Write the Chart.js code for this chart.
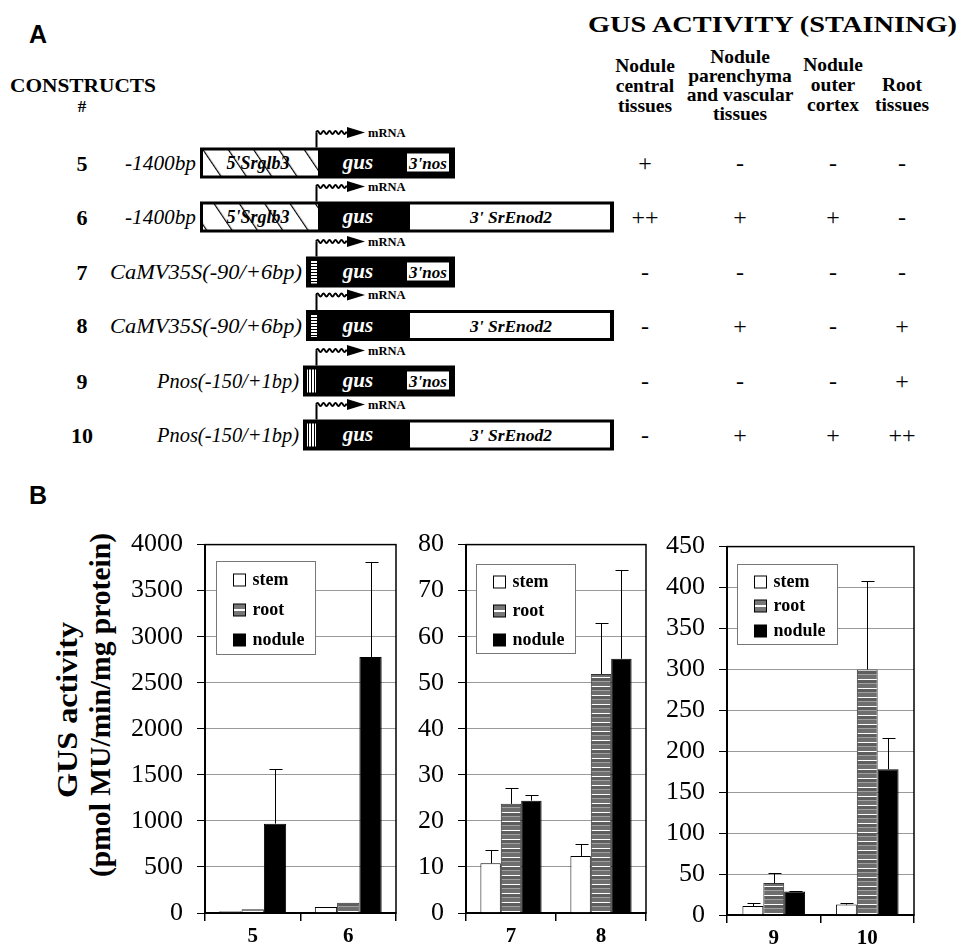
<!DOCTYPE html>
<html>
<head>
<meta charset="utf-8">
<script src="https://cdn.jsdelivr.net/npm/chart.js@4.4.1/dist/chart.umd.min.js"></script>
<style>
  html, body { margin: 0; padding: 0; background: #fff; }
  #page { position: relative; width: 962px; height: 946px; overflow: hidden; }
  #panelA { position: absolute; left: 0; top: 0; }
  canvas { position: absolute; }
</style>
</head>
<body>
<div id="page">
  <svg id="panelA" width="962" height="946" xmlns="http://www.w3.org/2000/svg"></svg>
  <canvas id="c1" width="355" height="431" style="left:45px;top:515px"></canvas>
  <canvas id="c2" width="250" height="431" style="left:400px;top:515px"></canvas>
  <canvas id="c3" width="270" height="431" style="left:650px;top:517px"></canvas>
</div>
<script>
// ---- panel A : constructs and staining ----
const constructIds = ['5', '6', '7', '8', '9', '10'];
const promoters = ['-1400bp', '-1400bp', 'CaMV35S(-90/+6bp)', 'CaMV35S(-90/+6bp)', 'Pnos(-150/+1bp)', 'Pnos(-150/+1bp)'];
const promoterKinds = ['srglb3', 'srglb3', 'camv', 'camv', 'pnos', 'pnos'];
const terminators = ["3'nos", "3' SrEnod2", "3'nos", "3' SrEnod2", "3'nos", "3' SrEnod2"];
const tissueHeads = [
  ['Nodule', 'central', 'tissues'],
  ['Nodule', 'parenchyma', 'and vascular', 'tissues'],
  ['Nodule', 'outer', 'cortex'],
  ['Root', 'tissues']
];
const staining = [
  ['+', '-', '-', '-'],
  ['++', '+', '+', '-'],
  ['-', '-', '-', '-'],
  ['-', '+', '-', '+'],
  ['-', '-', '-', '+'],
  ['-', '+', '+', '++']
];

// ---- panel B : GUS activity (pmol MU/min/mg protein) ----
const seriesNames = ['stem', 'root', 'nodule'];
const yTitle = ['GUS activity', '(pmol MU/min/mg protein)'];

const groups1 = ['5', '6'];
const stem1 = [20, 65];
const root1 = [40, 110];
const nodule1 = [970, 2780];
const stemErr1 = [0, 0];
const rootErr1 = [0, 0];
const noduleErr1 = [595, 1030];
const yTicks1 = [0, 500, 1000, 1500, 2000, 2500, 3000, 3500, 4000];

const groups2 = ['7', '8'];
const stem2 = [10.8, 12.4];
const root2 = [23.7, 51.9];
const nodule2 = [24.4, 55.2];
const stemErr2 = [2.9, 2.6];
const rootErr2 = [3.5, 11.1];
const noduleErr2 = [1.3, 19.2];
const yTicks2 = [0, 10, 20, 30, 40, 50, 60, 70, 80];

const groups3 = ['9', '10'];
const stem3 = [11, 12.7];
const root3 = [39, 300];
const nodule3 = [28.6, 178];
const stemErr3 = [3.5, 2];
const rootErr3 = [12.5, 108];
const noduleErr3 = [1, 38];
const yTicks3 = [0, 50, 100, 150, 200, 250, 300, 350, 400, 450];

const SERIF = "'Liberation Serif', 'Times New Roman', serif";
const SANS = "'Liberation Sans', Arial, sans-serif";

// ---------- panel A drawing ----------
function esc(t) { return t.replace(/&/g, '&amp;').replace(/</g, '&lt;'); }
function txt(x, y, t, a) { return `<text x="${x}" y="${y}" ${a}>${esc(t)}</text>`; }

const rowY = [163, 217, 272, 325.5, 381, 435];
const boxLeft = { srglb3: 200, camv: 306, pnos: 303 };
const gusX = 318;
const promoterWidth = { srglb3: 71, camv: 192, pnos: 142 };
const colX = [645, 740, 833, 902];
const headBase = [[72, 92, 112], [63, 82, 101, 120], [71, 91, 111], [91, 111]];

let s = `<defs>
  <pattern id="hatch" patternUnits="userSpaceOnUse" width="21" height="60" patternTransform="rotate(-34)">
    <rect width="21" height="60" fill="#fff"/><rect x="0" width="1.2" height="60" fill="#000"/>
  </pattern>
  <pattern id="hs" patternUnits="userSpaceOnUse" width="4" height="3">
    <rect width="4" height="3" fill="#fff"/><rect y="2" width="4" height="1" fill="#000"/>
  </pattern>
  <pattern id="vs" patternUnits="userSpaceOnUse" width="3" height="4">
    <rect width="3" height="4" fill="#fff"/><rect x="2" width="1" height="4" fill="#000"/>
  </pattern>
</defs>`;

s += txt(29, 43, 'A', `font-family="${SANS}" font-weight="bold" font-size="25"`);
s += txt(29, 504, 'B', `font-family="${SANS}" font-weight="bold" font-size="25"`);
s += txt(10, 92, 'CONSTRUCTS', `font-family="${SERIF}" font-weight="bold" font-size="18" textLength="146" lengthAdjust="spacingAndGlyphs"`);
s += txt(82, 112, '#', `font-family="${SERIF}" font-weight="bold" font-size="17" text-anchor="middle"`);
s += txt(588, 32, 'GUS ACTIVITY (STAINING)', `font-family="${SERIF}" font-weight="bold" font-size="24" textLength="369" lengthAdjust="spacingAndGlyphs"`);

tissueHeads.forEach((lines, c) => {
  lines.forEach((ln, k) => {
    s += txt(colX[c], headBase[c][k], ln, `font-family="${SERIF}" font-weight="bold" font-size="19.5" text-anchor="middle"`);
  });
});

constructIds.forEach((id, i) => {
  const cy = rowY[i], top = cy - 15.5, kind = promoterKinds[i];
  const left = boxLeft[kind];
  const isNos = terminators[i] === "3'nos";
  const right = isNos ? 455 : 614;
  const bi = `font-family="${SERIF}" font-weight="bold" font-style="italic" dominant-baseline="central" text-anchor="middle"`;

  s += txt(82, cy, id, `font-family="${SERIF}" font-weight="bold" font-size="22" text-anchor="middle" dominant-baseline="central"`);
  s += txt(left - 4, cy, promoters[i], `font-family="${SERIF}" font-style="italic" font-size="21" text-anchor="end" dominant-baseline="central" textLength="${promoterWidth[kind]}" lengthAdjust="spacingAndGlyphs"`);

  s += `<rect x="${left}" y="${top}" width="${right - left}" height="31" fill="#000"/>`;
  if (kind === 'srglb3') {
    s += `<rect x="${left + 3}" y="${top + 3}" width="${gusX - left - 3}" height="25" fill="url(#hatch)"/>`;
    s += txt(258, cy, "5'Srglb3", `${bi} font-size="18" fill="#000"`);
  } else if (kind === 'camv') {
    s += `<rect x="311" y="${top + 4}" width="6" height="23" fill="url(#hs)"/>`;
  } else {
    s += `<rect x="307" y="${top + 4}" width="9" height="23" fill="url(#vs)"/>`;
  }
  s += txt(358, cy - 1, 'gus', `${bi} font-size="21" fill="#fff"`);
  if (isNos) {
    s += `<rect x="407" y="${top + 6}" width="42" height="18" fill="#fff"/>`;
    s += txt(428, cy, terminators[i], `${bi} font-size="17" fill="#000"`);
  } else {
    s += `<rect x="410" y="${top + 3}" width="200" height="25" fill="#fff"/>`;
    s += txt(511, cy, terminators[i], `${bi} font-size="17.5" fill="#000"`);
  }

  // transcription start arrow
  const ay = top - 15;
  let wave = `M316 ${ay} q1.5 -3 3 0`;
  for (let k = 0; k < 9; k++) wave += ' t3 0';
  wave += ` L348 ${ay}`;
  s += `<path d="M316.5 ${top} V${ay}" stroke="#000" stroke-width="2" fill="none"/>`;
  s += `<path d="${wave}" stroke="#000" stroke-width="1.8" fill="none"/>`;
  s += `<polygon points="347,${ay - 5.5} 365,${ay} 347,${ay + 5.5}" fill="#000"/>`;
  s += txt(368, ay, 'mRNA', `font-family="${SERIF}" font-weight="bold" font-size="12.5" dominant-baseline="central"`);

  staining[i].forEach((v, c) => {
    s += txt(colX[c], cy, v, `font-family="${SERIF}" font-size="24" fill="#000" text-anchor="middle" dominant-baseline="central"`);
  });
});

// y-axis title of the first chart of panel B
s += `<text transform="translate(67,710) rotate(-90)" font-family="${SERIF}" font-weight="bold" font-size="29" text-anchor="middle" dominant-baseline="central" textLength="176" lengthAdjust="spacingAndGlyphs">${esc(yTitle[0])}</text>`;
s += `<text transform="translate(100,705) rotate(-90)" font-family="${SERIF}" font-weight="bold" font-size="29" text-anchor="middle" dominant-baseline="central" textLength="344" lengthAdjust="spacingAndGlyphs">${esc(yTitle[1])}</text>`;

document.getElementById('panelA').innerHTML = s;

// ---------- panel B charts ----------
function stripePattern() {
  const c = document.createElement('canvas');
  c.width = 4; c.height = 9;
  const g = c.getContext('2d');
  g.fillStyle = '#6e6e6e'; g.fillRect(0, 0, 4, 9);
  g.fillStyle = '#ffffff'; g.fillRect(0, 0, 4, 1);
  g.fillStyle = '#5e5e5e'; g.fillRect(0, 1, 4, 3);
  g.fillStyle = '#a0a0a0'; g.fillRect(0, 4, 4, 1);
  return g.createPattern(c, 'repeat');
}
const rootFill = stripePattern();

const errorBars = {
  id: 'errorBars',
  afterDatasetsDraw(chart) {
    const { ctx } = chart;
    const y = chart.scales.y;
    ctx.save();
    ctx.strokeStyle = '#000';
    ctx.lineWidth = 1;
    chart.data.datasets.forEach((ds, i) => {
      chart.getDatasetMeta(i).data.forEach((bar, j) => {
        const e = ds.errors[j];
        if (!e) return;
        const top = Math.round(y.getPixelForValue(ds.data[j] + e)) + 0.5;
        const x = Math.round(bar.x) + 0.5;
        ctx.beginPath();
        ctx.moveTo(x, bar.y);
        ctx.lineTo(x, top);
        ctx.moveTo(x - 6, top);
        ctx.lineTo(x + 7, top);
        ctx.stroke();
      });
    });
    ctx.restore();
  }
};

const boxLegend = {
  id: 'boxLegend',
  afterDraw(chart, args, o) {
    const { ctx, chartArea: a } = chart;
    // plot frame
    ctx.save();
    ctx.strokeStyle = '#000';
    ctx.lineWidth = 1.5;
    ctx.strokeRect(a.left, a.top, a.right - a.left, a.bottom - a.top);

    const x0 = Math.round(a.left + o.x) + 0.5, y0 = Math.round(a.top + o.y) + 0.5;
    ctx.fillStyle = '#fff';
    ctx.fillRect(x0, y0, o.w, o.h);
    ctx.strokeStyle = '#777';
    ctx.lineWidth = 1;
    ctx.strokeRect(x0, y0, o.w, o.h);
    ctx.font = `bold 18px ${SERIF}`;
    ctx.textBaseline = 'middle';
    chart.data.datasets.forEach((ds, i) => {
      const cy = Math.round(y0 + o.first + i * o.gap);
      const mx = x0 + 17, my = cy - 6;
      if (i === 1) {
        ctx.fillStyle = '#777';
        ctx.fillRect(mx, my, 12, 12);
        ctx.fillStyle = '#fff';
        ctx.fillRect(mx, my + 5, 12, 2);
      } else {
        ctx.fillStyle = ds.backgroundColor;
        ctx.fillRect(mx, my, 12, 12);
      }
      ctx.strokeStyle = '#000';
      ctx.strokeRect(mx, my, 12, 12);
      ctx.fillStyle = '#000';
      ctx.fillText(ds.label, x0 + 36, cy);
    });
    ctx.restore();
  }
};

function makeChart(id, groups, values, errs, ticks, yWidth, catPct, legendBox) {
  const fills = ['#ffffff', rootFill, '#000000'];
  const borders = ['#000000', '#333333', '#000000'];
  new Chart(document.getElementById(id), {
    type: 'bar',
    data: {
      labels: groups,
      datasets: seriesNames.map((name, k) => ({
        label: name,
        data: values[k],
        errors: errs[k],
        backgroundColor: fills[k],
        borderColor: borders[k],
        borderWidth: 1,
        categoryPercentage: catPct,
        barPercentage: 1
      }))
    },
    options: {
      responsive: false,
      animation: false,
      events: [],
      layout: { padding: { top: 20, right: id === 'c3' ? 6 : 4, left: 0, bottom: 0 } },
      plugins: {
        legend: { display: false },
        tooltip: { enabled: false },
        boxLegend: legendBox
      },
      scales: {
        x: {
          grid: { drawOnChartArea: false, offset: true, tickLength: 8, color: '#000', lineWidth: 1.5 },
          border: { color: '#000', width: 2 },
          ticks: { color: '#000', padding: 3, font: { family: SERIF, size: 21, weight: 'bold' } },
          afterFit(sc) { sc.height = 33; }
        },
        y: {
          min: ticks[0],
          max: ticks[ticks.length - 1],
          grid: { color: '#9a9a9a', tickColor: '#000', tickLength: 8, lineWidth: 1 },
          border: { color: '#000', width: 2 },
          ticks: {
            color: '#000', padding: 14, font: { family: SERIF, size: 26 },
            callback: v => String(v)
          },
          afterBuildTicks(sc) { sc.ticks = ticks.map(v => ({ value: v })); },
          afterFit(sc) { sc.width = yWidth; }
        }
      }
    },
    plugins: [errorBars, boxLegend]
  });
}

makeChart('c1', groups1, [stem1, root1, nodule1], [stemErr1, rootErr1, noduleErr1], yTicks1, 160, 0.70,
  { x: 11, y: 16, w: 99, h: 93, first: 18, gap: 30 });
makeChart('c2', groups2, [stem2, root2, nodule2], [stemErr2, rootErr2, noduleErr2], yTicks2, 66, 0.68,
  { x: 10, y: 19, w: 99, h: 89, first: 17, gap: 29 });
makeChart('c3', groups3, [stem3, root3, nodule3], [stemErr3, rootErr3, noduleErr3], yTicks3, 77, 0.67,
  { x: 10, y: 17, w: 100, h: 80, first: 17, gap: 24.5 });
</script>
</body>
</html>
